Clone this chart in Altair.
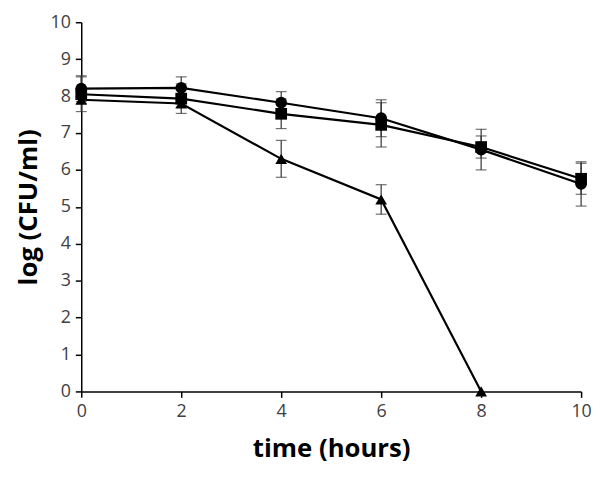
import altair as alt
import pandas as pd

time_h = [0, 2, 4, 6, 8, 10]
circle_vals = [8.2, 8.22, 7.82, 7.4, 6.55, 5.62]
circle_err = [0.35, 0.3, 0.3, 0.5, 0.55, 0.6]
square_vals = [8.05, 7.93, 7.52, 7.22, 6.62, 5.76]
square_err = [0.47, 0.4, 0.4, 0.6, 0.3, 0.42]
triangle_time = [0, 2, 4, 6, 8]
triangle_vals = [7.9, 7.8, 6.3, 5.2, 0.0]
triangle_err = [0.1, 0.1, 0.5, 0.4, 0.0]
x_ticks = [0, 2, 4, 6, 8, 10]
y_ticks = [0, 1, 2, 3, 4, 5, 6, 7, 8, 9, 10]

rows = []
for t, v, e in zip(time_h, circle_vals, circle_err):
    rows.append({"time": t, "val": v, "lo": v - e, "hi": v + e, "series": "circle"})
for t, v, e in zip(time_h, square_vals, square_err):
    rows.append({"time": t, "val": v, "lo": v - e, "hi": v + e, "series": "square"})
for t, v, e in zip(triangle_time, triangle_vals, triangle_err):
    rows.append({"time": t, "val": v, "lo": v - e, "hi": v + e, "series": "triangle-up"})
df = pd.DataFrame(rows)

xscale = alt.Scale(domain=[0, 10], nice=False)
yscale = alt.Scale(domain=[0, 10], nice=False)
xaxis = alt.Axis(values=x_ticks, title="time (hours)", grid=False, labelFlush=False)
yaxis = alt.Axis(values=y_ticks, title="log (CFU/ml)", grid=False, labelOverlap=False,
                 labelFlush=False)


def X(field):
    return alt.X(field, scale=xscale, axis=xaxis)


def Y(field):
    return alt.Y(field, scale=yscale, axis=yaxis)


base = alt.Chart(df)
errbase = alt.Chart(df[df["hi"] > df["lo"]])

rules = errbase.mark_rule(color="#333333", strokeWidth=1.2).encode(
    x=X("time:Q"), y=Y("lo:Q"), y2="hi:Q")
cap_lo = errbase.mark_tick(color="#333333", orient="horizontal", size=11, thickness=1.2).encode(
    x=X("time:Q"), y=Y("lo:Q"))
cap_hi = errbase.mark_tick(color="#333333", orient="horizontal", size=11, thickness=1.2).encode(
    x=X("time:Q"), y=Y("hi:Q"))

lines = base.mark_line(color="black", strokeWidth=2.2).encode(
    x=X("time:Q"), y=Y("val:Q"), detail="series:N")
points = base.mark_point(filled=True, opacity=1, color="black", size=140).encode(
    x=X("time:Q"), y=Y("val:Q"),
    shape=alt.Shape("series:N", scale=alt.Scale(domain=["circle", "square", "triangle-up"],
                                                range=["circle", "square", "triangle-up"]),
                    legend=None))

chart = alt.layer(rules, cap_lo, cap_hi, lines, points).properties(
    width=505, height=373,
    autosize=alt.AutoSizeParams(type="none"),
    padding={"left": 74, "top": 12, "right": 11, "bottom": 78},
).configure_view(stroke=None).configure_axis(
    domainColor="black", domainWidth=1.5, tickColor="black", tickWidth=1.5, tickSize=6,
    labelFont="Open Sans", labelFontSize=18, labelColor="#404040", labelPadding=5,
    titleFont="Open Sans", titleFontSize=26, titleFontWeight="bold", titleColor="black",
).configure_axisY(titlePadding=9).configure_axisX(titlePadding=16)

chart.save("out.html", embed_options={"renderer": "svg", "actions": False})
